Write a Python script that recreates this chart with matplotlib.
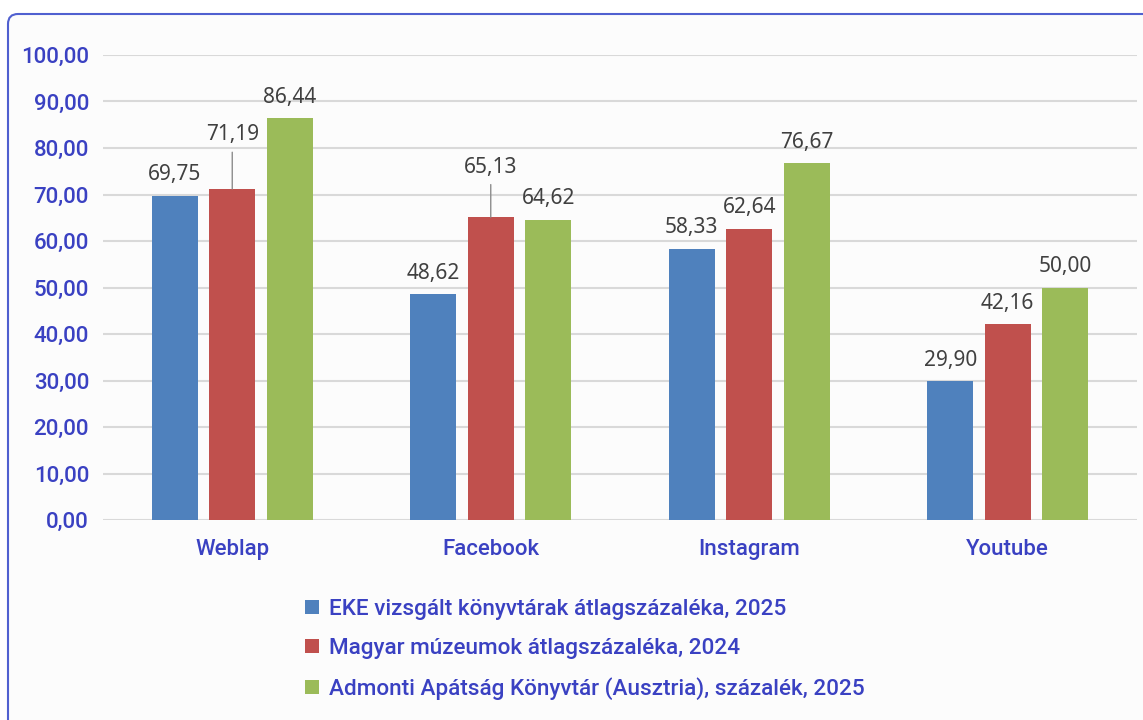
import numpy as np
import matplotlib
matplotlib.use("Agg")
import matplotlib.pyplot as plt
from matplotlib.patches import FancyBboxPatch, Patch

# adatok
categories = ["Weblap", "Facebook", "Instagram", "Youtube"]
series_names = [
    "EKE vizsgált könyvtárak átlagszázaléka, 2025",
    "Magyar múzeumok átlagszázaléka, 2024",
    "Admonti Apátság Könyvtár (Ausztria), százalék, 2025",
]
eke = [69.75, 48.62, 58.33, 29.90]
muzeum = [71.19, 65.13, 62.64, 42.16]
admont = [86.44, 64.62, 76.67, 50.00]
yticks = [0, 10, 20, 30, 40, 50, 60, 70, 80, 90, 100]

colors = ["#4f81bd", "#c0504d", "#9bbb59"]
blue_txt = "#3a41c2"
label_font = "Noto Sans"
blue_font = "Roboto"


def fmt(v):
    return f"{v:.2f}".replace(".", ",")


W, H = 1143, 720
fig = plt.figure(figsize=(W / 100, H / 100), dpi=100)
fig.patch.set_facecolor("white")

# keret
box = FancyBboxPatch((8, -30), 1170, 720 - 14 + 30,
                     boxstyle="round,pad=0,rounding_size=10",
                     transform=None, facecolor="#fcfcfc",
                     edgecolor="#5060d0", linewidth=1.5, zorder=-5)
fig.add_artist(box)

ax = fig.add_axes([103 / W, 200 / H, 1034 / W, 465 / H], zorder=2)
ax.set_facecolor("none")

x = np.arange(len(categories))
bw = 0.178
step = 0.222
series = [eke, muzeum, admont]
for i, (vals, c, name) in enumerate(zip(series, colors, series_names)):
    ax.bar(x + (i - 1) * step, vals, width=bw, color=c, label=name, zorder=3)

# adatfeliratok, kettő vezetővonallal
lifted = {(0, 1): 39, (1, 1): 36}
for i, vals in enumerate(series):
    for j, v in enumerate(vals):
        xp = x[j] + (i - 1) * step
        off = lifted.get((j, i), 15)
        if (j, i) in lifted:
            ax.annotate(fmt(v), (xp, v), xytext=(0, off), textcoords="offset points",
                        ha="center", va="center", fontsize=15, color="#404040",
                        family=label_font,
                        arrowprops=dict(arrowstyle="-", color="#8c8c8c", lw=1,
                                        shrinkA=3, shrinkB=0))
        else:
            ax.annotate(fmt(v), (xp, v), xytext=(0, off), textcoords="offset points",
                        ha="center", va="center", fontsize=15, color="#404040",
                        family=label_font)

ax.set_xlim(-0.5, len(categories) - 0.5)
ax.set_ylim(0, 100)
ax.set_yticks(yticks)
ax.set_yticklabels([fmt(t) for t in yticks], color=blue_txt, fontsize=16,
                   family=blue_font, fontweight="medium")
ax.set_xticks(x)
ax.set_xticklabels(categories, color=blue_txt, fontsize=16, family=blue_font,
                   fontweight="medium")
ax.tick_params(axis="both", length=0)
ax.tick_params(axis="y", pad=10)
ax.tick_params(axis="x", pad=14)
ax.grid(axis="y", color="#d9d9d9", lw=1.5, zorder=0)
for s in ax.spines.values():
    s.set_visible(False)

handles = [Patch(facecolor=c, label=n) for c, n in zip(colors, series_names)]
leg = fig.legend(handles=handles, loc="upper left",
                 bbox_to_anchor=(296 / W, 1 - 590 / H), frameon=False,
                 handlelength=0.6, handleheight=0.6, handletextpad=0.45,
                 labelspacing=0.8, borderaxespad=0,
                 prop=dict(family=blue_font, size=16.2, weight="medium"))
for t in leg.get_texts():
    t.set_color(blue_txt)

fig.savefig("out.png", dpi=100)
